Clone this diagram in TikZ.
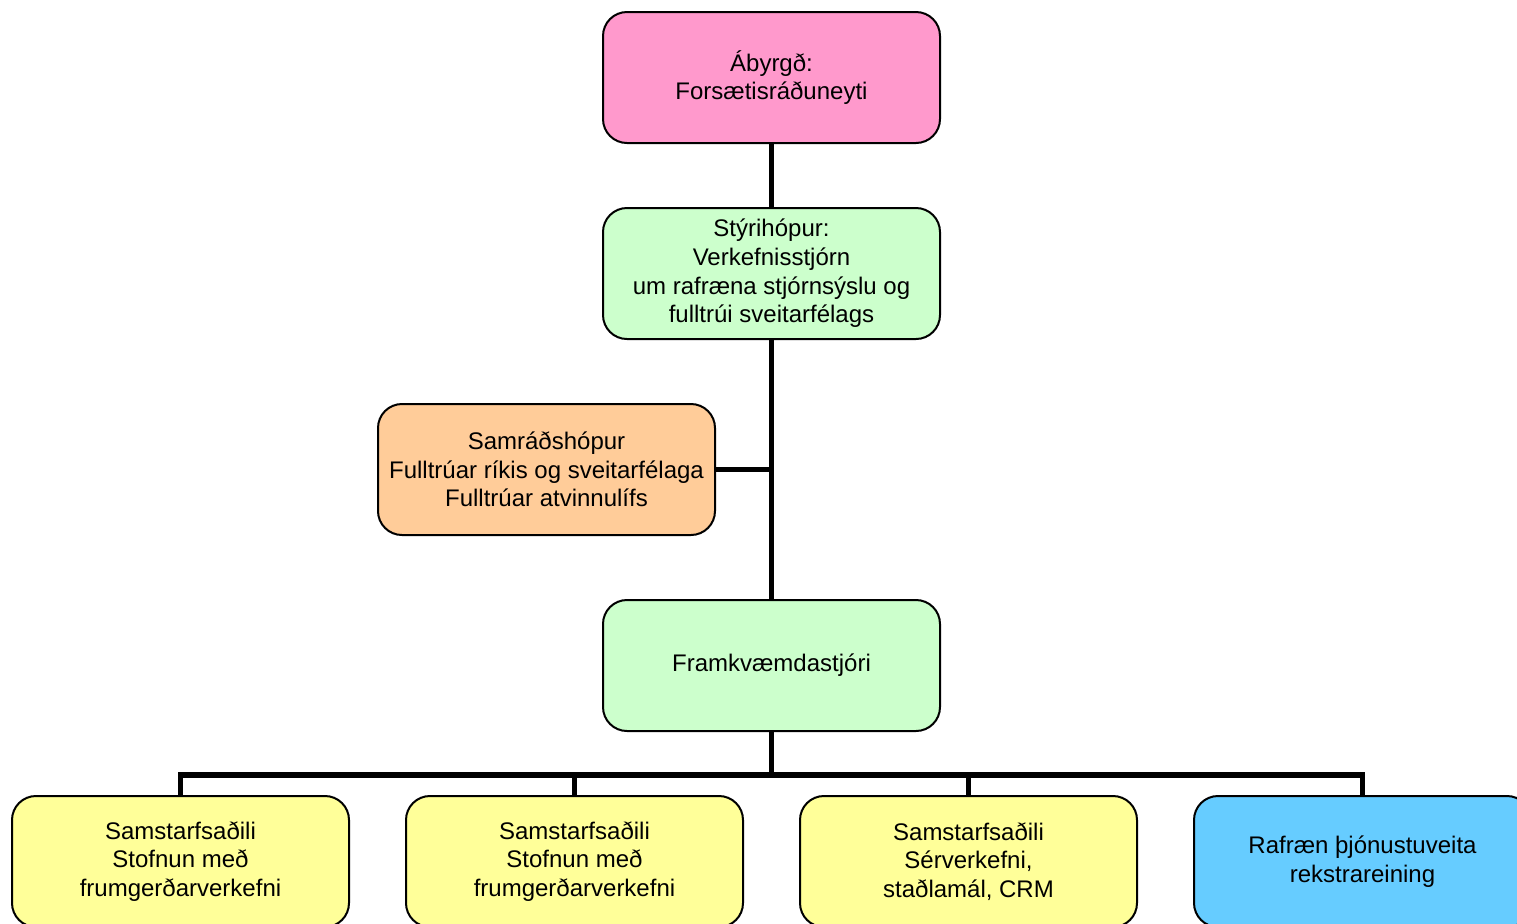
\documentclass[tikz,border=0pt]{standalone}
\usepackage{fontspec}
\setmainfont{Liberation Sans}
\usepackage{tikz}

\definecolor{bleikur}{HTML}{FF99CC}
\definecolor{graenn}{HTML}{CCFFCC}
\definecolor{appels}{HTML}{FFCC99}
\definecolor{gulur}{HTML}{FFFF99}
\definecolor{blar}{HTML}{66CCFF}

\begin{document}
\begin{tikzpicture}[x=0.5pt,y=-0.5pt,
	box/.style={draw,line width=1pt,rounded corners=12pt,align=center,
		minimum width=168.5pt,minimum height=65.5pt,inner sep=0pt,
		font=\fontsize{12}{14.3}\selectfont},
	tengi/.style={line width=2.6pt}]

	\useasboundingbox (0,0) rectangle (1517,923);

	\node[box,fill=bleikur] (abyrgd) at (771.5,77.5) {Ábyrgð:\\Forsætisráðuneyti};
	\node[box,fill=graenn] (styri) at (771.5,273.5) {Stýrihópur:\\Verkefnisstjórn\\um rafræna stjórnsýslu og\\fulltrúi sveitarfélags};
	\node[box,fill=appels] (samrad) at (546.5,469.5) {Samráðshópur\\Fulltrúar ríkis og sveitarfélaga\\Fulltrúar atvinnulífs};
	\node[box,fill=graenn] (framkv) at (771.5,665.5) {Framkvæmdastjóri};

	\node[box,fill=gulur] (samst1) at (180.5,861.5) {Samstarfsaðili\\Stofnun með\\frumgerðarverkefni};
	\node[box,fill=gulur] (samst2) at (574.5,861.5) {Samstarfsaðili\\Stofnun með\\frumgerðarverkefni};
	\node[box,fill=gulur] (samst3) at (968.5,861.5) {Samstarfsaðili\\Sérverkefni,\\staðlamál, CRM};
	\node[box,fill=blar] (rafraen) at (1362.5,861.5) {Rafræn þjónustuveita\\rekstrareining};

	\coordinate (bus) at (771.5,775);

	\draw[tengi] (abyrgd) -- (styri);
	\draw[tengi] (styri) -- (framkv);
	\draw[tengi] (samrad.east) -- (samrad.east -| styri.south);
	\draw[tengi] (framkv) -- (bus);
	\draw[tengi] (samst1.north) |- (bus -| rafraen.north) -- (rafraen.north);
	\draw[tengi] (samst2.north) -- (samst2.north |- bus);
	\draw[tengi] (samst3.north) -- (samst3.north |- bus);

\end{tikzpicture}
\end{document}
